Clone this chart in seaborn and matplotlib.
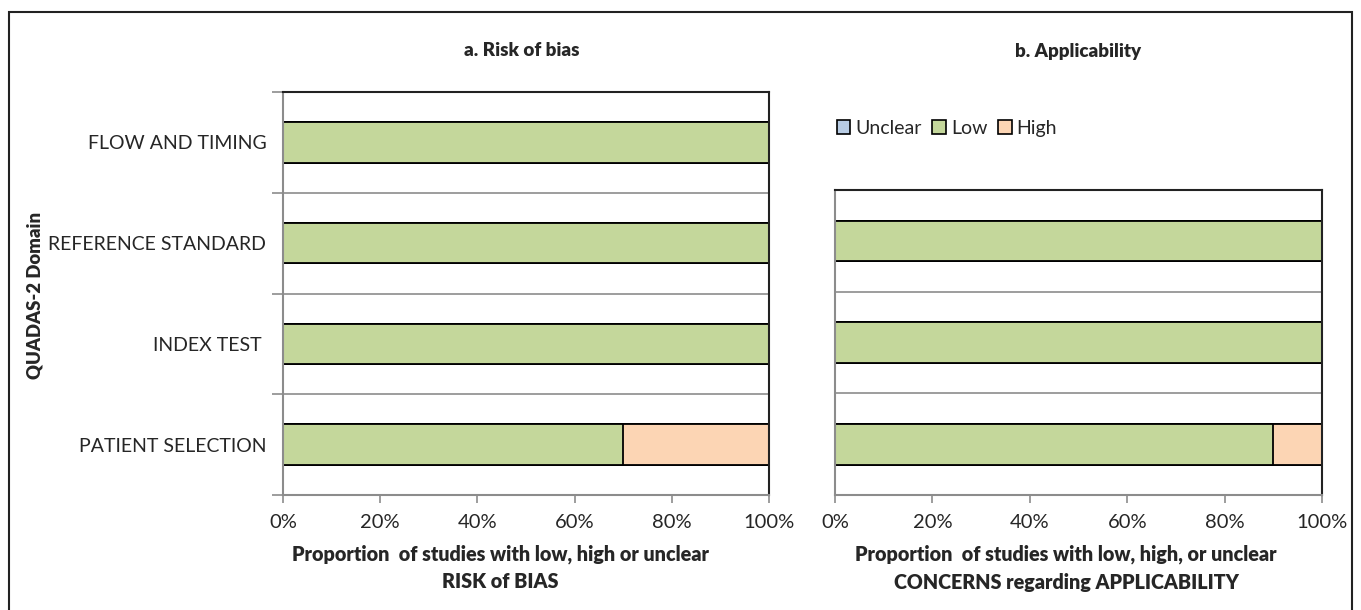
import numpy as np
import pandas as pd
import matplotlib.pyplot as plt
import matplotlib.patches as mpatches
import seaborn as sns

# QUADAS-2 summary (percent of studies)
rob_domains = ["FLOW AND TIMING", "REFERENCE STANDARD", "INDEX TEST ", "PATIENT SELECTION"]
rob_low = [100, 100, 100, 70]
rob_high = [0, 0, 0, 30]
rob_unclear = [0, 0, 0, 0]

app_domains = ["REFERENCE STANDARD", "INDEX TEST ", "PATIENT SELECTION"]
app_low = [100, 100, 90]
app_high = [0, 0, 10]
app_unclear = [0, 0, 0]

x_ticks = [0, 20, 40, 60, 80, 100]
x_ticklabels = ["0%", "20%", "40%", "60%", "80%", "100%"]

GREEN = "#C4D79B"
PEACH = "#FCD5B4"
BLUE = "#B8CCE4"
GRID = "#8c8c8c"

sns.set_theme(style="white")
plt.rcParams["font.family"] = ["Lato", "DejaVu Sans"]


def stacked(ax, domains, low, high, unclear, show_labels):
    df = pd.DataFrame({"domain": domains, "low": low, "high": high, "unclear": unclear})
    df["lowhigh"] = df["low"] + df["high"]
    df["total"] = df["lowhigh"] + df["unclear"]
    # draw cumulative layers, widest first
    for col, c in [("total", BLUE), ("lowhigh", PEACH), ("low", GREEN)]:
        sns.barplot(data=df, x=col, y="domain", order=domains, color=c,
                    edgecolor="black", linewidth=1.3, width=0.4, ax=ax,
                    saturation=1)
    n = len(domains)
    ax.set_xlim(0, 100)
    ax.set_ylim(n - 0.5, -0.5)
    ax.set_xticks(x_ticks)
    ax.set_xticklabels(x_ticklabels, fontsize=14.5)
    ax.tick_params(axis="x", length=6, width=1.2, color=GRID, pad=8, bottom=True)
    ax.set_yticks(np.arange(n))
    if show_labels:
        ax.set_yticklabels(domains, fontsize=14)
    else:
        ax.set_yticklabels([])
    ax.tick_params(axis="y", which="major", length=0, pad=12)
    ax.set_yticks(np.arange(n + 1) - 0.5, minor=True)
    ax.tick_params(axis="y", which="minor", length=8 if show_labels else 0,
                   width=1.2, color=GRID, left=True)
    for b in np.arange(1, n) - 0.5:
        ax.axhline(b, color=GRID, lw=1.2, zorder=0)
    ax.spines["left"].set_color(GRID)
    ax.spines["bottom"].set_color(GRID)
    ax.spines["left"].set_linewidth(1.5)
    ax.spines["bottom"].set_linewidth(1.5)
    ax.spines["top"].set_color("#222222")
    ax.spines["right"].set_color("#222222")
    ax.spines["top"].set_linewidth(1.5)
    ax.spines["right"].set_linewidth(1.5)
    ax.set_xlabel("")
    ax.set_ylabel("")


fig = plt.figure(figsize=(13.61, 6.10), dpi=100)
W, H = 1361, 610

ax1 = fig.add_axes([283 / W, 1 - 495 / H, (769 - 283) / W, (495 - 92) / H])
ax2 = fig.add_axes([835 / W, 1 - 495 / H, (1322 - 835) / W, (495 - 190) / H])

stacked(ax1, rob_domains, rob_low, rob_high, rob_unclear, True)
stacked(ax2, app_domains, app_low, app_high, app_unclear, False)

fig.text(522 / W, 1 - 51 / H, "a. Risk of bias", ha="center", va="center",
         fontsize=13.5, fontweight="heavy")
fig.text(1078 / W, 1 - 51 / H, "b. Applicability", ha="center", va="center",
         fontsize=13.5, fontweight="heavy")

fig.text(500 / W, 1 - 554 / H, "Proportion  of studies with low, high or unclear",
         ha="center", va="center", fontsize=14.2, fontweight="heavy")
fig.text(500 / W, 1 - 582 / H, "RISK of BIAS", ha="center", va="center",
         fontsize=14.2, fontweight="heavy")
fig.text(1066 / W, 1 - 554 / H, "Proportion  of studies with low, high, or unclear",
         ha="center", va="center", fontsize=14.2, fontweight="heavy")
fig.text(1066 / W, 1 - 582 / H, "CONCERNS regarding APPLICABILITY", ha="center",
         va="center", fontsize=14.2, fontweight="heavy")

fig.text(35 / W, 1 - 295 / H, "QUADAS-2 Domain", rotation=90, ha="center",
         va="center", fontsize=13.3, fontweight="heavy")

handles = [mpatches.Patch(facecolor=c, edgecolor="black", linewidth=1.2, label=l)
           for c, l in [(BLUE, "Unclear"), (GREEN, "Low"), (PEACH, "High")]]
fig.legend(handles=handles, loc="center left", bbox_to_anchor=(829 / W, 1 - 128 / H),
           ncol=3, frameon=False, fontsize=14, handlelength=0.7, handleheight=0.7,
           handletextpad=0.25, columnspacing=0.55, borderaxespad=0)

# outer frame
fig.patches.append(mpatches.Rectangle((9 / W, -0.01), (1352 - 9) / W, 1 - 12 / H + 0.01,
                                      transform=fig.transFigure, fill=False,
                                      edgecolor="#222222", linewidth=1.5))

fig.savefig("out.png", dpi=100)
